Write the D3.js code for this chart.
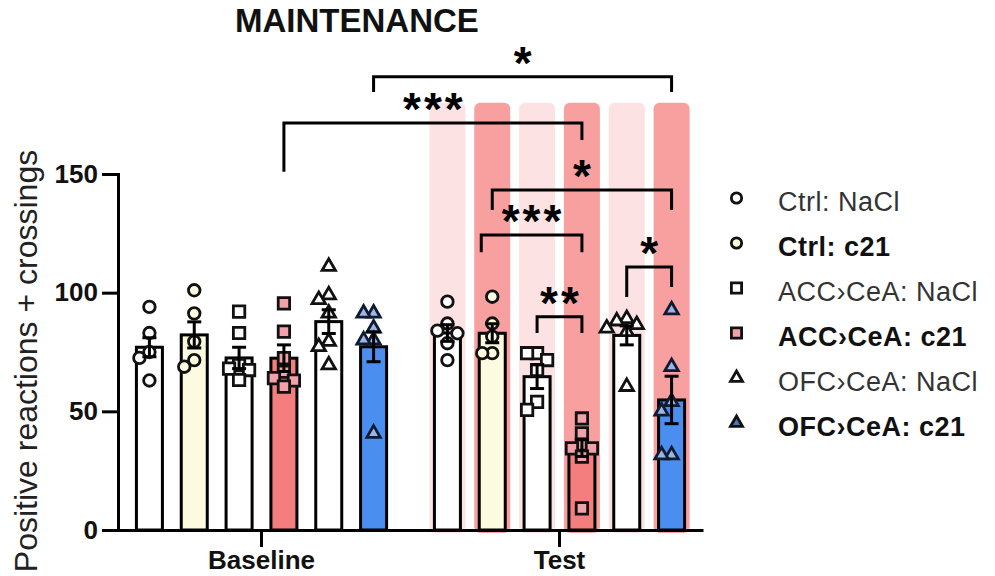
<!DOCTYPE html>
<html><head><meta charset="utf-8">
<script src="https://cdn.jsdelivr.net/npm/d3@7"></script>
<style>
body{margin:0;background:#fff}
svg{display:block}
text{font-family:"Liberation Sans",Arial,Helvetica,sans-serif}
</style>
</head><body>
<svg id="chart" width="995" height="576"></svg>
<script>
// ---------------- DATA ----------------
const groups = ["Baseline", "Test"];
const series = ["Ctrl: NaCl", "Ctrl: c21", "ACC\u203ACeA: NaCl", "ACC\u203ACeA: c21", "OFC\u203ACeA: NaCl", "OFC\u203ACeA: c21"];
const yTicks = [0, 50, 100, 150];

const baselineMeans = [77, 82.2, 72.5, 72.4, 87.8, 77.2];
const baselineSEM   = [4, 5.5, 4.5, 5.6, 5, 6.3];
const testMeans     = [83, 82.9, 64.6, 34.5, 82, 54.8];
const testSEM       = [3.5, 4, 5, 3.5, 4, 10];

const baselinePoints = [
  [94, 83, 75, 72.5, 63],
  [101, 91.3, 79.4, 71.6, 68.8],
  [92, 83, 69.5, 68, 67.4, 63.2],
  [95.5, 83.6, 72.4, 66.7, 64, 63, 60.4],
  [111, 99, 97, 91.3, 79.4, 77.2, 69.5],
  [91.3, 91.3, 85, 80, 80, 40.7]
];
const testPoints = [
  [96.2, 87, 84, 82.9, 78.7, 71.6],
  [98.3, 87, 81.5, 74.5, 74.5],
  [74.5, 74.5, 71.6, 67.4, 54, 50.6],
  [47, 40.7, 36, 34.4, 34.4, 30.9, 9.1],
  [89, 88, 86.5, 85, 83.5, 60.4],
  [92.7, 68.8, 54, 50, 31.6, 31.6]
];

// significance brackets: [groupIndex, seriesIndex]
const bracketFrom   = [[0,5],[0,3],[1,1],[1,1],[1,2],[1,4]];
const bracketTo     = [[1,5],[1,3],[1,5],[1,3],[1,3],[1,5]];
const bracketLevel  = [191, 171.5, 143.3, 124.3, 89.8, 110.8];
const bracketLegA   = [184.6, 150.9, 134.8, 117, 83, 98.2];
const bracketLegB   = [184.6, 164.3, 134.8, 117, 83, 102.4];
const bracketLabel  = ["*", "***", "*", "***", "**", "*"];

const highlightTop = 180; // highlight columns behind Test bars (value units)

// ---------------- STYLE ----------------
const barFill    = ["#ffffff", "#fdfbdf", "#ffffff", "#f47e7e", "#ffffff", "#4a8ef0"];
const pointFill  = ["#ffffff", "#fdfbdf", "#ffffff", "#f0a2a8", "#ffffff", "#9db6de"];
const pointStroke= ["#111", "#111", "#111", "#111", "#111", "#0f1a33"];
const shapeType  = [d3.symbolCircle, d3.symbolCircle, d3.symbolSquare, d3.symbolSquare, d3.symbolTriangle, d3.symbolTriangle];
const shapeSize  = [105, 105, 130, 130, 78, 78];
const highlightFill = ["#fde2e3", "#f8a0a0"];
const isBold = [false, true, false, true, false, true];

const means = [baselineMeans, testMeans];
const sems = [baselineSEM, testSEM];
const points = [baselinePoints, testPoints];

const svg = d3.select("#chart");

const x0 = d3.scaleBand().domain(groups).range([118, 703]).paddingInner(0.0973).paddingOuter(0.0302);
const x1 = d3.scaleBand().domain(d3.range(series.length)).range([0, x0.bandwidth()]);
const y = d3.scaleLinear().domain([0, 150]).range([530, 174]);
const cx = (g, i) => x0(groups[g]) + x1(i) + x1.bandwidth() / 2;
const barW = 26;

// highlight columns (Test group)
series.forEach((s, i) => {
  svg.append("rect")
    .attr("x", cx(1, i) - 18).attr("y", y(highlightTop))
    .attr("width", 36).attr("height", y(0) + 3 - y(highlightTop))
    .attr("rx", 6)
    .attr("fill", highlightFill[i % 2]);
});

// bars
groups.forEach((g, gi) => {
  series.forEach((s, i) => {
    const m = means[gi][i];
    svg.append("rect")
      .attr("x", cx(gi, i) - barW / 2).attr("y", y(m))
      .attr("width", barW).attr("height", y(0) - y(m))
      .attr("fill", barFill[i]).attr("stroke", "#000").attr("stroke-width", 3);
  });
});

// points with simple dodge
function dodge(vals) {
  const order = vals.map((v, k) => k).sort((a, b) => vals[b] - vals[a]);
  const placed = [];
  const offs = new Array(vals.length).fill(0);
  const cands = [0, -10, 10, -20, 20];
  order.forEach(k => {
    const py = y(vals[k]);
    let chosen = 0;
    for (const c of cands) {
      const clash = placed.some(p => Math.abs(p.o - c) < 9 && Math.abs(p.y - py) < 10);
      if (!clash) { chosen = c; break; }
    }
    offs[k] = chosen;
    placed.push({o: chosen, y: py});
  });
  return offs;
}
groups.forEach((g, gi) => {
  series.forEach((s, i) => {
    const vals = points[gi][i];
    const offs = dodge(vals);
    vals.forEach((v, k) => {
      svg.append("path")
        .attr("d", d3.symbol().type(shapeType[i]).size(shapeSize[i])())
        .attr("transform", `translate(${cx(gi, i) + offs[k]},${y(v)})`)
        .attr("fill", pointFill[i]).attr("stroke", pointStroke[i]).attr("stroke-width", 2.8);
    });
  });
});

// error bars
groups.forEach((g, gi) => {
  series.forEach((s, i) => {
    const m = means[gi][i], e = sems[gi][i], c = cx(gi, i);
    const eg = svg.append("g").attr("stroke", "#000").attr("stroke-width", 3);
    eg.append("line").attr("x1", c).attr("x2", c).attr("y1", y(m - e)).attr("y2", y(m + e));
    eg.append("line").attr("x1", c - 7).attr("x2", c + 7).attr("y1", y(m + e)).attr("y2", y(m + e));
    eg.append("line").attr("x1", c - 7).attr("x2", c + 7).attr("y1", y(m - e)).attr("y2", y(m - e));
  });
});

// axes
const ya = svg.append("g").attr("transform", "translate(118,0)")
  .call(d3.axisLeft(y).tickValues(yTicks).tickSize(16).tickSizeOuter(0).tickPadding(4));
ya.attr("font-family", null).attr("font-size", null);
ya.select(".domain").attr("stroke", "#000").attr("stroke-width", 3).attr("stroke-linecap", "square");
ya.selectAll(".tick line").attr("stroke", "#000").attr("stroke-width", 3);
ya.selectAll(".tick text").attr("font-size", 26).attr("font-weight", "bold").attr("fill", "#111");

const xa = svg.append("g").attr("transform", "translate(0,530)")
  .call(d3.axisBottom(x0).tickSize(17).tickSizeOuter(0).tickPadding(4));
xa.attr("font-family", null).attr("font-size", null);
xa.select(".domain").attr("stroke", "#000").attr("stroke-width", 3);
xa.selectAll(".tick line").attr("stroke", "#000").attr("stroke-width", 3);
xa.selectAll(".tick text").attr("font-size", 26).attr("font-weight", "bold").attr("fill", "#111");

// brackets
const bracketNudgeA = [0, 0, 0, -11, 0, 0];
bracketLabel.forEach((lab, b) => {
  const xa_ = cx(bracketFrom[b][0], bracketFrom[b][1]) + bracketNudgeA[b];
  const xb_ = cx(bracketTo[b][0], bracketTo[b][1]);
  const ly = y(bracketLevel[b]);
  svg.append("path")
    .attr("d", `M${xa_},${y(bracketLegA[b])}V${ly}H${xb_}V${y(bracketLegB[b])}`)
    .attr("fill", "none").attr("stroke", "#000").attr("stroke-width", 3);
  svg.append("text")
    .attr("x", (xa_ + xb_) / 2 + 1.5).attr("y", ly + 2)
    .attr("text-anchor", "middle")
    .attr("font-size", 46).attr("font-weight", "bold").attr("letter-spacing", 3)
    .attr("fill", "#000")
    .text(lab);
});

// title
svg.append("text").attr("x", 235).attr("y", 32)
  .attr("font-size", 33).attr("font-weight", "bold").attr("fill", "#111")
  .text("MAINTENANCE");

// y label
svg.append("text").attr("transform", "translate(37,361) rotate(-90)")
  .attr("text-anchor", "middle").attr("font-size", 32).attr("fill", "#222")
  .text("Positive reactions + crossings");

// legend
const leg = svg.append("g");
series.forEach((s, i) => {
  const ry = 198 + 45 * i;
  leg.append("path")
    .attr("d", d3.symbol().type(shapeType[i]).size(shapeSize[i] * 0.8)())
    .attr("transform", `translate(736.5,${ry})`)
    .attr("fill", i === 5 ? "#4a78b8" : pointFill[i]).attr("stroke", "#111").attr("stroke-width", 2.8);
  leg.append("text").attr("x", 778).attr("y", ry + 12.5)
    .attr("font-size", 27).attr("letter-spacing", 0.5)
    .attr("font-weight", isBold[i] ? "bold" : "normal")
    .attr("fill", isBold[i] ? "#111" : "#333")
    .text(s);
});
</script>
</body></html>
